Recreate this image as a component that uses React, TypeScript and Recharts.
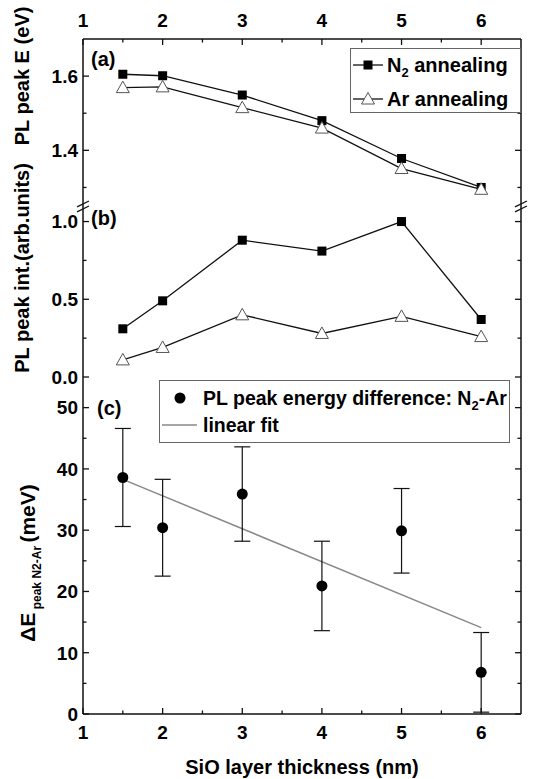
import React from 'react';
import {
  ComposedChart,
  Line,
  Scatter,
  XAxis,
  YAxis,
  ErrorBar,
  Legend,
  ReferenceLine,
} from 'recharts';

const FONT = "'Liberation Sans', Arial, Helvetica, sans-serif";

// ---------- data ----------
const thickness = [1.5, 2, 3, 4, 5, 6];
const peakEnergyN2 = [1.605, 1.601, 1.549, 1.48, 1.378, 1.3];
const peakEnergyAr = [1.569, 1.571, 1.515, 1.46, 1.351, 1.295];
const peakIntN2 = [0.31, 0.49, 0.88, 0.81, 1.0, 0.37];
const peakIntAr = [0.11, 0.19, 0.4, 0.28, 0.39, 0.26];
const deltaE = [38.6, 30.4, 35.9, 20.9, 29.9, 6.8];
const deltaEErr = [8.0, 7.9, 7.7, 7.3, 6.9, 6.5];
const fitX = [1.5, 6];
const fitY = [38.3, 14.1];

const xTicks = [1, 1.5, 2, 2.5, 3, 3.5, 4, 4.5, 5, 5.5, 6];
const xMajor = [1, 2, 3, 4, 5, 6];
const eTicks = [1.3, 1.4, 1.5, 1.6];
const eMajor = [1.4, 1.6];
const iTicks = [0, 0.25, 0.5, 0.75, 1.0];
const iMajor = [0, 0.5, 1.0];
const dTicks = [0, 5, 10, 15, 20, 25, 30, 35, 40, 45, 50];
const dMajor = [0, 10, 20, 30, 40, 50];

const seriesNames = ['N₂ annealing', 'Ar annealing'];
const diffNames = ['PL peak energy difference: N₂-Ar', 'linear fit'];

const energyData = thickness.map((x, i) => ({ x, n2: peakEnergyN2[i], ar: peakEnergyAr[i] }));
const intData = thickness.map((x, i) => ({ x, n2: peakIntN2[i], ar: peakIntAr[i] }));
const deltaData = thickness.map((x, i) => ({ x, y: deltaE[i], err: deltaEErr[i] }));
const fitData = fitX.map((x, i) => ({ x, y: fitY[i] }));

// ---------- styling helpers ----------
const W = 548;
const H = 779;
const X_DOMAIN: [number, number] = [1, 6.5];
const AXIS = { stroke: '#111', strokeWidth: 1.5 };
const MAJ = 6;
const MIN = 3.5;
const TICK_FS = 19;
const isIn = (arr: number[], v: number) => arr.some((m) => Math.abs(m - v) < 1e-6);

const txtStyle = { fontFamily: FONT, fontWeight: 700, fill: '#000' } as const;

const makeLeftTick = (majors: number[], fmt: (v: number) => string) => (p: any) => {
  const { x, y, payload } = p;
  const major = isIn(majors, payload.value);
  return (
    <g>
      <line x1={x} y1={y} x2={x + (major ? MAJ : MIN)} y2={y} stroke="#111" strokeWidth={1.3} />
      {major && (
        <text x={x - 5} y={y} dy="0.36em" textAnchor="end" fontSize={TICK_FS} style={txtStyle}>
          {fmt(payload.value)}
        </text>
      )}
    </g>
  );
};

const makeRightTick = (majors: number[]) => (p: any) => {
  const { x, y, payload } = p;
  const major = isIn(majors, payload.value);
  return <line x1={x} y1={y} x2={x - (major ? MAJ : MIN)} y2={y} stroke="#111" strokeWidth={1.3} />;
};

const TopTick = (p: any) => {
  const { x, y, payload } = p;
  const major = isIn(xMajor, payload.value);
  return (
    <g>
      <line x1={x} y1={y} x2={x} y2={y + (major ? MAJ : MIN)} stroke="#111" strokeWidth={1.3} />
      {major && (
        <text x={x} y={y - 19} dy="0.36em" textAnchor="middle" fontSize={TICK_FS} style={txtStyle}>
          {String(payload.value)}
        </text>
      )}
    </g>
  );
};

const makeBottomTick = (labels: boolean) => (p: any) => {
  const { x, y, payload } = p;
  const major = isIn(xMajor, payload.value);
  return (
    <g>
      <line x1={x} y1={y} x2={x} y2={y - (major ? MAJ : MIN)} stroke="#111" strokeWidth={1.3} />
      {labels && major && (
        <text x={x} y={y + 18} dy="0.36em" textAnchor="middle" fontSize={TICK_FS} style={txtStyle}>
          {String(payload.value)}
        </text>
      )}
    </g>
  );
};

const SquareDot = (p: any) => {
  const { cx, cy } = p;
  if (cx == null || cy == null) return <g />;
  return <rect x={cx - 4.5} y={cy - 4.5} width={9} height={9} fill="#000" />;
};

const TriDot = (p: any) => {
  const { cx, cy } = p;
  if (cx == null || cy == null) return <g />;
  return (
    <polygon
      points={`${cx},${cy - 6.5} ${cx - 6.5},${cy + 5} ${cx + 6.5},${cy + 5}`}
      fill="#fff"
      stroke="#555"
      strokeWidth={1}
    />
  );
};

const CircleDot = (p: any) => {
  const { cx, cy } = p;
  if (cx == null || cy == null) return <g />;
  return <circle cx={cx} cy={cy} r={5.5} fill="#000" />;
};

const EnergyLegend = () => (
  <div
    style={{
      width: 171,
      height: 65,
      boxSizing: 'border-box',
      border: '1px solid #666',
      background: '#fff',
    }}
  >
    <svg width={169} height={63} style={{ display: 'block' }}>
      <line x1={2} y1={16} x2={32} y2={16} stroke="#111" strokeWidth={1.3} />
      <rect x={12.5} y={11.5} width={9} height={9} fill="#000" />
      <text x={36} y={16} dy="0.36em" fontSize={20} style={txtStyle}>
        <tspan>N</tspan>
        <tspan fontSize={13} dy={5}>2</tspan>
        <tspan dy={-5}> annealing</tspan>
      </text>
      <line x1={2} y1={50} x2={32} y2={50} stroke="#111" strokeWidth={1.3} />
      <polygon points="17,43.5 10.5,55 23.5,55" fill="#fff" stroke="#555" strokeWidth={1} />
      <text x={36} y={50} dy="0.36em" fontSize={20} style={txtStyle}>
        {seriesNames[1]}
      </text>
    </svg>
  </div>
);

const DiffLegend = () => (
  <div
    style={{
      width: 351,
      height: 63,
      boxSizing: 'border-box',
      border: '1px solid #666',
      background: '#fff',
    }}
  >
    <svg width={349} height={61} style={{ display: 'block' }}>
      <circle cx={20} cy={17} r={5.5} fill="#000" />
      <text x={43} y={17} dy="0.36em" fontSize={19.5} style={txtStyle}>
        <tspan>PL peak energy difference: N</tspan>
        <tspan fontSize={13} dy={5}>2</tspan>
        <tspan dy={-5}>-Ar</tspan>
      </text>
      <line x1={2} y1={44} x2={37} y2={44} stroke="#888" strokeWidth={1.5} />
      <text x={43} y={44} dy="0.36em" fontSize={19.5} style={txtStyle}>
        {diffNames[1]}
      </text>
    </svg>
  </div>
);

const legendWrap = (left: number, top: number, width: number, height: number) => ({
  left,
  top,
  width,
  height,
  margin: 0,
  padding: 0,
});

// ---------- panels ----------
const PanelA = () => (
  <ComposedChart width={W} height={H} data={energyData} margin={{ top: 0, right: 0, bottom: 573, left: 0 }}>
    <XAxis
      xAxisId="top"
      orientation="top"
      dataKey="x"
      type="number"
      domain={X_DOMAIN}
      allowDataOverflow
      ticks={xTicks}
      interval={0}
      height={39}
      tickSize={0}
      tickMargin={0}
      tickLine={false}
      axisLine={AXIS}
      tick={TopTick}
    />
    <XAxis
      xAxisId="bot"
      orientation="bottom"
      dataKey="x"
      type="number"
      domain={X_DOMAIN}
      allowDataOverflow
      height={0}
      tick={false}
      tickLine={false}
      axisLine={AXIS}
    />
    <YAxis
      yAxisId="L"
      orientation="left"
      width={83}
      type="number"
      domain={[1.25, 1.7]}
      allowDataOverflow
      ticks={eTicks}
      interval={0}
      tickSize={0}
      tickMargin={0}
      tickLine={false}
      axisLine={AXIS}
      tick={makeLeftTick(eMajor, (v) => v.toFixed(1))}
    />
    <YAxis
      yAxisId="R"
      orientation="right"
      width={27}
      type="number"
      domain={[1.25, 1.7]}
      allowDataOverflow
      ticks={eTicks}
      interval={0}
      tickSize={0}
      tickMargin={0}
      tickLine={false}
      axisLine={AXIS}
      tick={makeRightTick(eMajor)}
    />
    <Line
      xAxisId="top"
      yAxisId="L"
      dataKey="n2"
      name={seriesNames[0]}
      type="linear"
      stroke="#111"
      strokeWidth={1.3}
      dot={SquareDot}
      activeDot={false}
      isAnimationActive={false}
    />
    <Line
      xAxisId="top"
      yAxisId="L"
      dataKey="ar"
      name={seriesNames[1]}
      type="linear"
      stroke="#111"
      strokeWidth={1.3}
      dot={TriDot}
      activeDot={false}
      isAnimationActive={false}
    />
    <Legend
      layout="vertical"
      align="center"
      verticalAlign="middle"
      wrapperStyle={legendWrap(350, 48, 171, 65)}
      content={EnergyLegend}
    />
    <text x={91} y={59} dy="0.36em" fontSize={20} style={txtStyle}>(a)</text>
    <text transform="translate(22,76) rotate(-90)" textAnchor="middle" dy="0.36em" fontSize={20} style={txtStyle}>
      PL peak E (eV)
    </text>
  </ComposedChart>
);

const PanelB = () => (
  <ComposedChart width={W} height={H} data={intData} margin={{ top: 206, right: 0, bottom: 402, left: 0 }}>
    <XAxis
      xAxisId="b"
      orientation="bottom"
      dataKey="x"
      type="number"
      domain={X_DOMAIN}
      allowDataOverflow
      ticks={xTicks}
      interval={0}
      height={0}
      tickSize={0}
      tickMargin={0}
      tickLine={false}
      axisLine={AXIS}
      tick={makeBottomTick(false)}
    />
    <YAxis
      yAxisId="L"
      orientation="left"
      width={83}
      type="number"
      domain={[0, 1.1]}
      allowDataOverflow
      ticks={iTicks}
      interval={0}
      tickSize={0}
      tickMargin={0}
      tickLine={false}
      axisLine={AXIS}
      tick={makeLeftTick(iMajor, (v) => v.toFixed(1))}
    />
    <YAxis
      yAxisId="R"
      orientation="right"
      width={27}
      type="number"
      domain={[0, 1.1]}
      allowDataOverflow
      ticks={iTicks}
      interval={0}
      tickSize={0}
      tickMargin={0}
      tickLine={false}
      axisLine={AXIS}
      tick={makeRightTick(iMajor)}
    />
    <Line
      xAxisId="b"
      yAxisId="L"
      dataKey="n2"
      name={seriesNames[0]}
      type="linear"
      stroke="#111"
      strokeWidth={1.3}
      dot={SquareDot}
      activeDot={false}
      isAnimationActive={false}
    />
    <Line
      xAxisId="b"
      yAxisId="L"
      dataKey="ar"
      name={seriesNames[1]}
      type="linear"
      stroke="#111"
      strokeWidth={1.3}
      dot={TriDot}
      activeDot={false}
      isAnimationActive={false}
    />
    {/* axis-break marks */}
    <ReferenceLine xAxisId="b" yAxisId="L" ifOverflow="visible" stroke="#111" strokeWidth={1.3}
      segment={[{ x: 0.925, y: 1.094 }, { x: 1.075, y: 1.132 }]} />
    <ReferenceLine xAxisId="b" yAxisId="L" ifOverflow="visible" stroke="#111" strokeWidth={1.3}
      segment={[{ x: 0.925, y: 1.062 }, { x: 1.075, y: 1.1 }]} />
    <ReferenceLine xAxisId="b" yAxisId="L" ifOverflow="visible" stroke="#111" strokeWidth={1.3}
      segment={[{ x: 6.425, y: 1.094 }, { x: 6.575, y: 1.132 }]} />
    <ReferenceLine xAxisId="b" yAxisId="L" ifOverflow="visible" stroke="#111" strokeWidth={1.3}
      segment={[{ x: 6.425, y: 1.062 }, { x: 6.575, y: 1.1 }]} />
    <text x={91} y={218} dy="0.36em" fontSize={20} style={txtStyle}>(b)</text>
    <text transform="translate(22,268) rotate(-90)" textAnchor="middle" dy="0.36em" fontSize={20} style={txtStyle}>
      PL peak int.(arb.units)
    </text>
  </ComposedChart>
);

const PanelC = () => (
  <ComposedChart width={W} height={H} margin={{ top: 377, right: 0, bottom: 0, left: 0 }}>
    <XAxis
      xAxisId="b"
      orientation="bottom"
      dataKey="x"
      type="number"
      domain={X_DOMAIN}
      allowDataOverflow
      ticks={xTicks}
      interval={0}
      height={65}
      tickSize={0}
      tickMargin={0}
      tickLine={false}
      axisLine={AXIS}
      tick={makeBottomTick(true)}
    />
    <YAxis
      yAxisId="L"
      orientation="left"
      dataKey="y"
      width={83}
      type="number"
      domain={[0, 55]}
      allowDataOverflow
      ticks={dTicks}
      interval={0}
      tickSize={0}
      tickMargin={0}
      tickLine={false}
      axisLine={AXIS}
      tick={makeLeftTick(dMajor, (v) => String(v))}
    />
    <YAxis
      yAxisId="R"
      orientation="right"
      dataKey="y"
      width={27}
      type="number"
      domain={[0, 55]}
      allowDataOverflow
      ticks={dTicks}
      interval={0}
      tickSize={0}
      tickMargin={0}
      tickLine={false}
      axisLine={AXIS}
      tick={makeRightTick(dMajor)}
    />
    <Line
      xAxisId="b"
      yAxisId="L"
      data={fitData}
      dataKey="y"
      name={diffNames[1]}
      type="linear"
      stroke="#888"
      strokeWidth={1.5}
      dot={false}
      activeDot={false}
      isAnimationActive={false}
    />
    <Scatter
      xAxisId="b"
      yAxisId="L"
      data={deltaData}
      dataKey="y"
      name={diffNames[0]}
      fill="#000"
      shape={CircleDot}
      isAnimationActive={false}
    >
      <ErrorBar dataKey="err" direction="y" width={8} stroke="#111" strokeWidth={1.2} isAnimationActive={false} />
    </Scatter>
    <Legend
      layout="vertical"
      align="center"
      verticalAlign="middle"
      wrapperStyle={legendWrap(159, 380, 351, 63)}
      content={DiffLegend}
    />
    <text x={97} y={408} dy="0.36em" fontSize={20} style={txtStyle}>(c)</text>
    <text transform="translate(27,563) rotate(-90)" textAnchor="middle" dy="0.36em" fontSize={21} style={txtStyle}>
      <tspan>ΔE</tspan>
      <tspan fontSize={12} dy={6}> peak N2-Ar </tspan>
      <tspan dy={-6}>(meV)</tspan>
    </text>
    <text x={302} y={767} dy="0.36em" textAnchor="middle" fontSize={20} style={txtStyle}>
      SiO layer thickness (nm)
    </text>
  </ComposedChart>
);

export default function App() {
  return (
    <div
      style={{
        position: 'absolute',
        left: 0,
        top: 0,
        width: W,
        height: H,
        background: '#fff',
        fontFamily: FONT,
        overflow: 'hidden',
      }}
    >
      <div style={{ position: 'absolute', left: 0, top: 0 }}>
        <PanelA />
      </div>
      <div style={{ position: 'absolute', left: 0, top: 0 }}>
        <PanelB />
      </div>
      <div style={{ position: 'absolute', left: 0, top: 0 }}>
        <PanelC />
      </div>
    </div>
  );
}
